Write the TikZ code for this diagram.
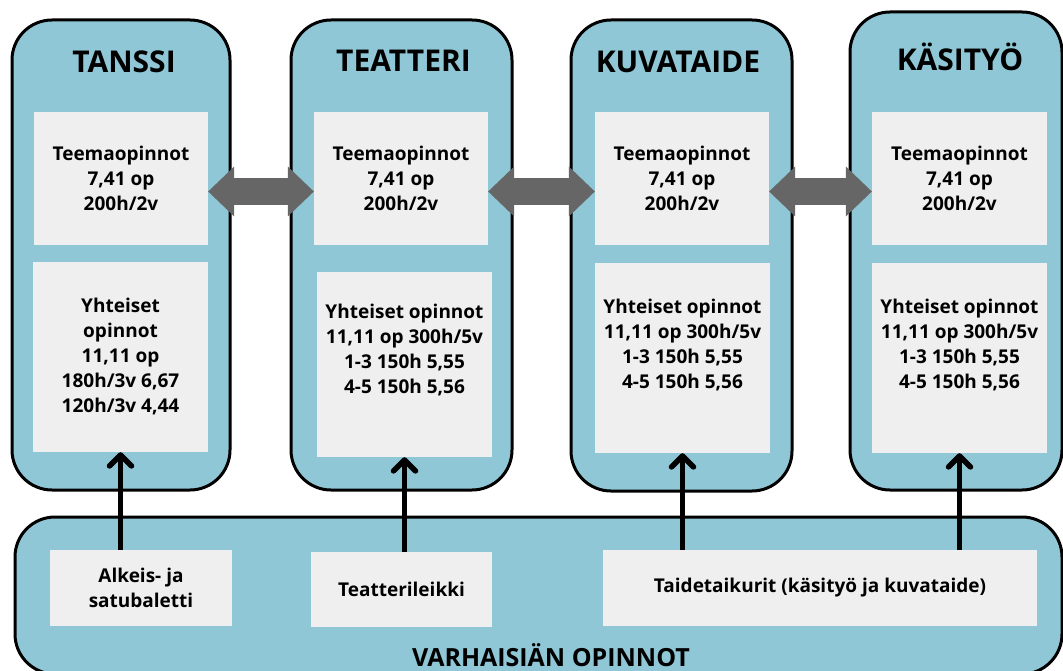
\documentclass[tikz,border=0pt]{standalone}
\usepackage{fontspec}
\setmainfont{Open Sans}
\usepackage{tikz}
\usetikzlibrary{arrows.meta}
\definecolor{boxblue}{RGB}{143,199,214}
\definecolor{panelgray}{RGB}{239,239,239}
\definecolor{arrowgray}{RGB}{102,102,102}

\begin{document}
\begin{tikzpicture}[x=1pt, y=-1pt,
  colbox/.style={draw, line width=3pt, fill=boxblue, rounded corners=40pt},
  panel/.style={fill=panelgray, inner sep=0pt},
  txt/.style={align=center, font=\bfseries\fontsize{19}{25}\selectfont},
  title/.style={font=\bfseries\fontsize{30}{36}\selectfont},
  uparrow/.style={line width=5.5pt, -{Straight Barb[length=11pt,width=22pt,line cap=round,line join=round]}},
  dblarrow/.style={draw=arrowgray, line width=27pt,
    {Triangle[length=26pt,width=50pt,line width=0pt]}-{Triangle[length=26pt,width=50pt,line width=0pt]}}]
  \useasboundingbox (0,0) rectangle (1063,671);
  \node[colbox, minimum width=1047pt, minimum height=157pt] (varhais) at (538.5,595.5) {};
  \node[colbox, minimum width=218pt, minimum height=470pt] (tanssi) at (121,255) {};
  \node[colbox, minimum width=221pt, minimum height=470pt] (teatteri) at (401.5,255) {};
  \node[colbox, minimum width=221pt, minimum height=471pt] (kuvataide) at (681.5,255.5) {};
  \node[colbox, minimum width=212pt, minimum height=478pt] (kasityo) at (956,251) {};
  \node[title] (tanssi-title) at (124,62) {TANSSI};
  \node[title] (teatteri-title) at (403.5,61) {TEATTERI};
  \node[title] (kuvataide-title) at (678,62) {KUVATAIDE};
  \node[title] (kasityo-title) at (960,57) {KÄSITYÖ};
  \node[panel, txt, minimum width=174pt, minimum height=133pt] (tanssi-teema) at (121,178.5) {Teemaopinnot\\7,41 op\\200h/2v};
  \node[panel, txt, minimum width=174pt, minimum height=133pt] (teatteri-teema) at (401,178.5) {Teemaopinnot\\7,41 op\\200h/2v};
  \node[panel, txt, minimum width=174pt, minimum height=133pt] (kuvataide-teema) at (682,178.5) {Teemaopinnot\\7,41 op\\200h/2v};
  \node[panel, txt, minimum width=175pt, minimum height=133pt] (kasityo-teema) at (959.5,178.5) {Teemaopinnot\\7,41 op\\200h/2v};
  \node[panel, txt, minimum width=175pt, minimum height=190pt] (tanssi-yht) at (120.5,357) {Yhteiset\\opinnot\\11,11 op\\180h/3v 6,67\\120h/3v 4,44};
  \node[panel, minimum width=175pt, minimum height=185pt] (teatteri-yht) at (404.5,364.5) {};
  \node[panel, minimum width=175pt, minimum height=190pt] (kuvataide-yht) at (682.5,358) {};
  \node[panel, minimum width=175pt, minimum height=190pt] (kasityo-yht) at (959.5,358) {};
  \node[txt] (teatteri-yht-txt) at (404.5,350.5) {Yhteiset opinnot\\11,11 op 300h/5v\\1-3 150h 5,55\\4-5 150h 5,56};
  \node[txt] (kuvataide-yht-txt) at (682.5,345.5) {Yhteiset opinnot\\11,11 op 300h/5v\\1-3 150h 5,55\\4-5 150h 5,56};
  \node[txt] (kasityo-yht-txt) at (959.5,345) {Yhteiset opinnot\\11,11 op 300h/5v\\1-3 150h 5,55\\4-5 150h 5,56};
  \node[panel, txt, minimum width=182pt, minimum height=76pt] (alkeis) at (141,588) {Alkeis- ja\\satubaletti};
  \node[panel, txt, minimum width=181pt, minimum height=75pt] (leikki) at (401.5,589.5) {Teatterileikki};
  \node[panel, txt, minimum width=434pt, minimum height=76pt] (taikurit) at (820,588) {Taidetaikurit (käsityö ja kuvataide)};
  \node[anchor=base, font=\bfseries\fontsize{25}{30}\selectfont] (varhais-title) at (551,666) {VARHAISIÄN OPINNOT};
  \draw[dblarrow] ([yshift=-13pt]tanssi-teema.east) -- ([yshift=-13pt]teatteri-teema.west);
  \draw[dblarrow] ([yshift=-13pt]teatteri-teema.east) -- ([yshift=-13pt]kuvataide-teema.west);
  \draw[dblarrow] ([yshift=-13pt]kuvataide-teema.east) -- ([yshift=-13pt]kasityo-teema.west);
  \draw[uparrow] (alkeis.north -| tanssi-yht.south) -- (tanssi-yht.south);
  \draw[uparrow] (leikki.north -| teatteri-yht.south) -- (teatteri-yht.south);
  \draw[uparrow] (taikurit.north -| kuvataide-yht.south) -- (kuvataide-yht.south);
  \draw[uparrow] (taikurit.north -| kasityo-yht.south) -- (kasityo-yht.south);
\end{tikzpicture}
\end{document}
